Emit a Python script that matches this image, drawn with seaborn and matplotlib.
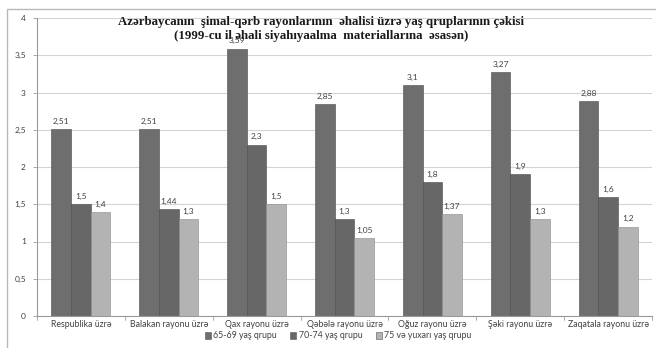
import matplotlib
matplotlib.use("Agg")
import matplotlib.pyplot as plt
import seaborn as sns
import pandas as pd
from matplotlib.patches import Rectangle

categories = ["Respublika üzrə", "Balakan rayonu üzrə", "Qax rayonu üzrə",
              "Qəbələ rayonu üzrə", "Oğuz rayonu üzrə", "Şəki rayonu üzrə",
              "Zaqatala rayonu üzrə"]
series_names = ["65-69 yaş qrupu", "70-74 yaş qrupu", "75 və yuxarı yaş qrupu"]
age_65_69 = [2.51, 2.51, 3.59, 2.85, 3.10, 3.27, 2.88]
age_70_74 = [1.50, 1.44, 2.30, 1.30, 1.80, 1.90, 1.60]
age_75_up = [1.40, 1.30, 1.50, 1.05, 1.37, 1.30, 1.20]
value_labels = [
    ["2,51", "2,51", "3,59", "2,85", "3,1", "3,27", "2,88"],
    ["1,5", "1,44", "2,3", "1,3", "1,8", "1,9", "1,6"],
    ["1,4", "1,3", "1,5", "1,05", "1,37", "1,3", "1,2"],
]
y_ticks = [0, 0.5, 1, 1.5, 2, 2.5, 3, 3.5, 4]
y_tick_labels = ["0", "0,5", "1", "1,5", "2", "2,5", "3", "3,5", "4"]

rows = []
for name, vals in zip(series_names, [age_65_69, age_70_74, age_75_up]):
    for cat, v in zip(categories, vals):
        rows.append({"Rayon": cat, "Qrup": name, "Çəki": v})
df = pd.DataFrame(rows)

sns.set_theme(style="white")
plt.rcParams["font.family"] = ["Lato", "DejaVu Sans"]

fig = plt.figure(figsize=(6.56, 3.48), dpi=100)
fig.patch.set_facecolor("white")
# chart frame
fig.patches.append(Rectangle((7 / 656, -0.05), 1.2, 1 - 9 / 348 + 0.05,
                             transform=fig.transFigure, fill=False,
                             edgecolor="#b8b8b8", linewidth=1.0))

ax = fig.add_axes([37 / 656, 1 - 316 / 348, 615 / 656, 298 / 348])
palette = ["#6e6e6e", "#676767", "#b3b3b3"]
sns.barplot(data=df, x="Rayon", y="Çəki", hue="Qrup", palette=palette,
            width=0.67, ax=ax, edgecolor="#555555", linewidth=0.4,
            saturation=1, legend=True)

bar_edges = ["#4a4a4a", "#4a4a4a", "#8a8a8a"]
for ci, cont in enumerate(ax.containers):
    for bar in cont:
        bar.set_edgecolor(bar_edges[ci])
    ax.bar_label(cont, labels=value_labels[ci], padding=3, fontsize=6,
                 color="#404040")

ax.set_ylim(0, 4)
ax.set_yticks(y_ticks)
ax.set_yticklabels(y_tick_labels, fontsize=6, color="#404040")
ax.set_xlim(-0.5, len(categories) - 0.5)
ax.tick_params(axis="x", labelsize=6.3, colors="#404040", length=0, pad=3)
ax.tick_params(axis="y", length=3, width=0.6, color="#9a9a9a", pad=5, left=True)
ax.set_xlabel("")
ax.set_ylabel("")
ax.yaxis.grid(True, color="#d4d4d4", linewidth=0.8)
ax.set_axisbelow(True)
for s in ["top", "right"]:
    ax.spines[s].set_visible(False)
ax.spines["left"].set_color("#9a9a9a")
ax.spines["left"].set_linewidth(0.8)
ax.spines["bottom"].set_color("#9a9a9a")
ax.spines["bottom"].set_linewidth(0.8)
# category separators on the x axis
for b in range(len(categories) + 1):
    ax.plot([b - 0.5, b - 0.5], [0, -0.06], color="#9a9a9a", lw=0.6,
            clip_on=False)

handles, labels = ax.get_legend_handles_labels()
ax.legend(handles, labels, loc="center", bbox_to_anchor=(338 / 656, 1 - 336 / 348),
          bbox_transform=fig.transFigure, ncol=3, frameon=False, fontsize=6.3,
          handlelength=0.7, handleheight=0.7, handletextpad=0.3,
          columnspacing=1.5, labelcolor="#404040", borderpad=0)

title_font = dict(ha="center", va="center", fontsize=9.3, fontweight="bold",
                  family=["Liberation Serif", "DejaVu Serif"], color="#1a1a1a")
fig.text(321 / 656, 1 - 22 / 348,
         "Azərbaycanın  şimal-qərb rayonlarının  əhalisi üzrə yaş qruplarının çəkisi",
         **title_font)
fig.text(321 / 656, 1 - 36 / 348,
         "(1999-cu il əhali siyahıyaalma  materiallarına  əsasən)",
         **title_font)

fig.savefig("out.png", dpi=100)
